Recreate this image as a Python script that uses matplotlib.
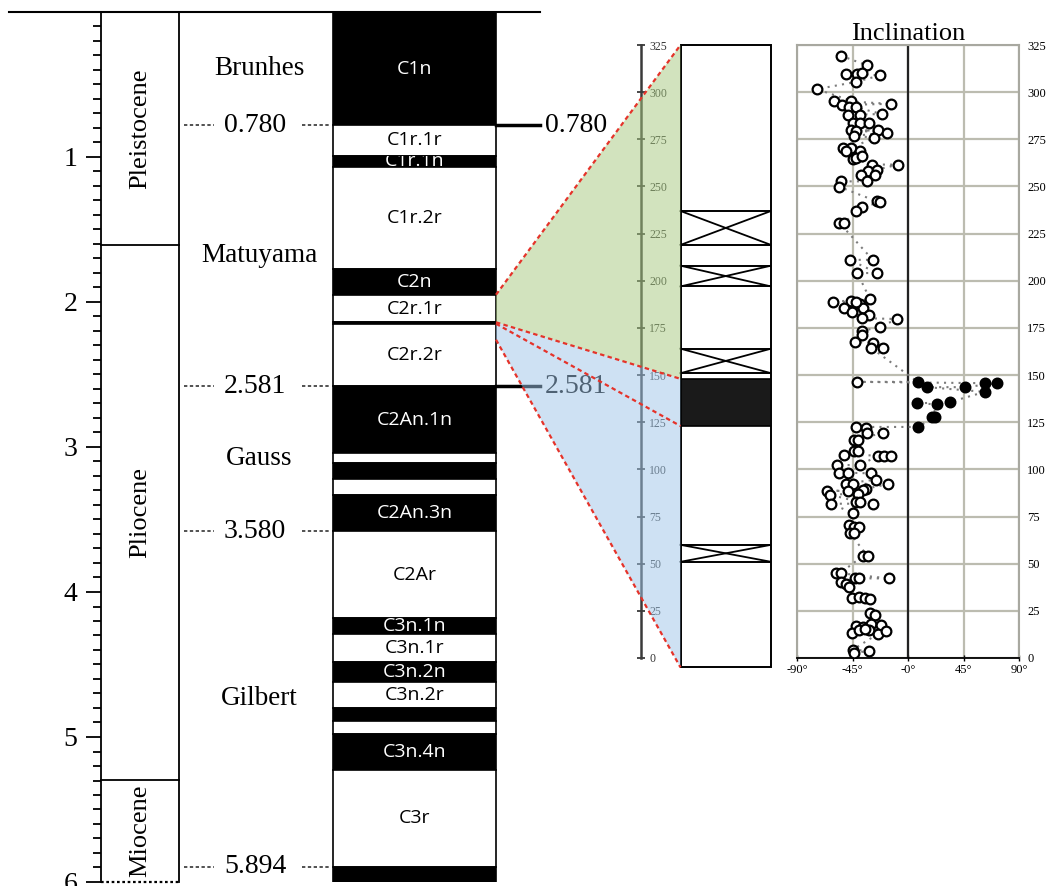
import numpy as np
import matplotlib
matplotlib.use('Agg')
import matplotlib.pyplot as plt
from matplotlib.patches import Polygon
from matplotlib.lines import Line2D

plt.rcParams['font.family'] = ['Liberation Serif', 'DejaVu Serif']

# ---- geomagnetic polarity time scale (Ma) ----
band_names = ['C1n', 'C1r.1r', 'C1r.1n', 'C1r.2r', 'C2n', 'C2r.1r', '', 'C2r.2r',
              'C2An.1n', '', '', '', 'C2An.3n', 'C2Ar', 'C3n.1n', 'C3n.1r',
              'C3n.2n', 'C3n.2r', '', '', 'C3n.4n', 'C3r', '']
band_top = [0.000, 0.780, 0.990, 1.070, 1.770, 1.950, 2.140, 2.150,
            2.581, 3.040, 3.110, 3.220, 3.330, 3.580, 4.180, 4.290,
            4.480, 4.620, 4.800, 4.890, 4.980, 5.230, 5.894]
band_base = [0.780, 0.990, 1.070, 1.770, 1.950, 2.140, 2.150, 2.581,
             3.040, 3.110, 3.220, 3.330, 3.580, 4.180, 4.290, 4.480,
             4.620, 4.800, 4.890, 4.980, 5.230, 5.894, 6.000]
band_normal = [1, 0, 1, 0, 1, 0, 1, 0,
               1, 0, 1, 0, 1, 0, 1, 0,
               1, 0, 1, 0, 1, 0, 1]

epoch_names = ['Pleistocene', 'Pliocene', 'Miocene']
epoch_bounds = [0.0, 1.61, 5.30, 6.0]
chron_names = ['Brunhes', 'Matuyama', 'Gauss', 'Gilbert']
chron_bounds = [0.0, 0.780, 2.581, 3.580, 5.894]
boundary_ages = [0.780, 2.581, 3.580, 5.894]
tie_ages = [0.780, 2.581]

# ---- section (m) ----
section_top, section_base = 325, -5
gap_top = [237, 208, 164, 60]
gap_base = [219, 197, 151, 51]
normal_top, normal_base = 148, 123

# correlation lines: age (Ma) -> depth (m)
link_ages = [1.95, 2.14, 2.15, 2.26]
link_depths = [325, 148, 123, -5]

# ---- inclination data ----
rev_depth = [319.3, 314.3, 309.5, 309.5, 310.2, 308.9, 305.4, 301.6,
             295.5, 295.5, 293.2, 292.3, 292.0, 293.8, 288.0, 288.0, 288.4,
             283.9, 283.9, 283.4, 279.8, 279.5, 279.8, 278.6, 276.8, 275.9,
             270.5, 270.5, 268.8, 268.8, 264.8, 265.2, 266.0, 261.6, 261.6,
             258.4, 258.9, 256.3, 256.3, 252.7, 252.7, 249.8,
             242.1, 241.7, 238.9, 236.8, 230.7, 230.7, 211.1, 211.1, 204.1, 204.1,
             189.0, 189.5, 190.2, 187.7, 185.5, 183.7, 185.5, 188.5,
             181.6, 180.2, 179.7, 175.5, 173.3, 171.0, 167.5, 167.2, 164.5, 164.5,
             146.4, 122.5, 122.0, 119.3, 119.3, 115.7, 115.7, 110.0, 109.6,
             107.7, 107.1, 107.3, 107.3, 102.3, 102.3, 98.2, 98.2, 97.9,
             94.6, 92.1, 92.5, 92.5, 88.6, 88.6, 89.8, 88.9, 87.1, 86.6,
             82.7, 82.7, 81.8, 81.8,
             76.8, 70.3, 69.7, 69.7, 66.2, 66.2, 54.0, 54.0, 45.2, 45.2,
             40.4, 39.4, 37.6, 42.2, 42.2, 42.2, 31.7, 32.4, 32.0, 31.1,
             23.6, 22.9, 17.1, 16.2, 18.0, 17.6, 14.8, 12.7, 14.5, 13.1,
             14.8, 15.3, 4.3, 2.5, 3.9]
rev_incl = [-54.2, -33.6, -50.1, -41.0, -36.9, -22.6, -42.4, -74.0,
            -59.7, -46.5, -53.4, -48.2, -42.4, -13.8, -48.7, -39.1, -21.2,
            -44.6, -39.1, -31.7, -46.0, -41.8, -24.0, -17.1, -43.8, -27.2,
            -52.8, -46.0, -50.1, -39.1, -44.6, -42.4, -37.2, -29.5, -8.0,
            -32.2, -25.3, -38.5, -26.7, -33.6, -54.2, -55.6,
            -25.3, -23.1, -36.9, -42.4, -55.6, -51.5, -47.3, -28.6, -41.0, -24.8,
            -61.1, -46.0, -30.8, -39.1, -52.0, -45.4, -36.3, -42.5,
            -31.4, -36.9, -8.8, -23.1, -37.7, -36.9, -43.2, -28.1, -30.0, -20.6,
            -41.3, -42.1, -33.8, -33.0, -19.9, -44.0, -40.7, -44.0, -40.7,
            -51.8, -24.1, -19.1, -13.9, -39.3, -57.3, -55.9, -49.0, -29.6,
            -26.0, -16.6, -50.4, -44.9, -65.7, -49.0, -33.8, -36.6, -40.7, -63.4,
            -42.1, -39.3, -62.3, -28.3,
            -44.5, -47.7, -43.6, -39.5, -47.2, -43.6, -36.8, -32.7, -58.7, -54.6,
            -54.6, -50.5, -47.7, -43.1, -39.5, -15.5, -45.5, -40.1, -34.6, -30.8,
            -30.8, -26.4, -42.3, -36.8, -30.0, -21.8, -31.4, -24.6, -17.7, -45.5,
            -39.5, -34.6, -45.0, -43.6, -31.9]
nor_depth = [146.4, 143.6, 143.6, 145.7, 145.7, 141.1, 135.0, 134.5, 135.7,
             127.7, 127.7, 122.5]
nor_incl = [7.8, 15.5, 46.5, 62.6, 72.3, 62.3, 7.2, 23.5, 34.0,
            19.7, 21.6, 8.0]

W, H = 1046, 886
fig = plt.figure(figsize=(W / 100, H / 100), dpi=100)


def px_axes(x0, y0, x1, y1):
    return fig.add_axes([x0 / W, 1 - y1 / H, (x1 - x0) / W, (y1 - y0) / H])


# ================= time scale =================
ax_t = px_axes(0, 12, 560, 882)
ax_t.set_xlim(0, 560)
ax_t.set_ylim(6, 0)
for s in ['top', 'right', 'bottom']:
    ax_t.spines[s].set_visible(False)
ax_t.spines['left'].set_position(('data', 101))
ax_t.spines['left'].set_linewidth(1.3)
ax_t.set_xticks([])
ax_t.set_yticks([1, 2, 3, 4, 5, 6])
ax_t.set_yticks(np.arange(0, 6.01, 0.1), minor=True)
ax_t.tick_params(axis='y', which='major', direction='out', length=11, width=1.3,
                 labelsize=20, pad=6)
ax_t.tick_params(axis='y', which='minor', direction='out', length=6, width=1.3)
ax_t.patch.set_alpha(0)

ax_t.plot([179, 179], [0, 6], color='black', lw=1.3, clip_on=False)
for b in epoch_bounds[1:-1]:
    ax_t.plot([101, 179], [b, b], color='black', lw=1.3)
ax_t.plot([101, 179], [6, 6], color='black', lw=1.6, ls=(0, (1.2, 1.2)), clip_on=False)
ax_t.plot([9, 540], [0, 0], color='black', lw=1.5, clip_on=False)

for name, a, b in zip(epoch_names, epoch_bounds[:-1], epoch_bounds[1:]):
    ax_t.text(140, (a + b) / 2, name, rotation=90, ha='center', va='center', fontsize=19)
for name, a, b in zip(chron_names, chron_bounds[:-1], chron_bounds[1:]):
    ax_t.text(259, (a + b) / 2, name, ha='center', va='center', fontsize=19.5)
for a in boundary_ages:
    ax_t.text(255, a, f'{a:.3f}', ha='center', va='center', fontsize=20)
    ax_t.plot([184, 214], [a, a], color='#333333', lw=1.2, ls=(0, (2, 1.5)))
    ax_t.plot([302, 331], [a, a], color='#333333', lw=1.2, ls=(0, (2, 1.5)))

for name, top, base, nrm in zip(band_names, band_top, band_base, band_normal):
    bars = ax_t.bar(414.5, base - top, bottom=top, width=163,
                    color='black' if nrm else 'white', edgecolor='black', lw=1.2)
    if name:
        t = ax_t.text(414.5, (top + base) / 2, name, ha='center', va='center',
                      fontsize=14, family=['Open Sans', 'DejaVu Sans'],
                      color='white' if nrm else 'black')
        t.set_clip_on(True)
        t.set_clip_path(bars[0])

for a in tie_ages:
    ax_t.plot([496, 540], [a, a], color='black', lw=2.5)
    ax_t.text(545, a, f'{a:.3f}', ha='left', va='center', fontsize=20)

# ================= section column =================
ax_d = px_axes(641, 45, 771, 658)
ax_d.set_xlim(0, 130)
ax_d.set_ylim(0, 325)
for s in ['top', 'left', 'bottom']:
    ax_d.spines[s].set_visible(False)
ax_d.spines['right'].set_position(('data', 0))
ax_d.spines['right'].set_linewidth(1.8)
ax_d.spines['right'].set_color('#3a3a3a')
ax_d.yaxis.tick_right()
ax_d.set_yticks(range(0, 326, 25))
ax_d.tick_params(axis='y', direction='inout', length=6, width=1.3, labelsize=8.5,
                 pad=3, color='#3a3a3a', labelcolor='#333333')
ax_d.set_xticks([])
ax_d.patch.set_alpha(0)

col_x0, col_x1 = 39.5, 130
ax_d.bar((col_x0 + col_x1) / 2, section_top - section_base, bottom=section_base,
         width=col_x1 - col_x0, color='white', edgecolor='black', lw=1.4, clip_on=False)
for gt, gb in zip(gap_top, gap_base):
    ax_d.bar((col_x0 + col_x1) / 2, gt - gb, bottom=gb, width=col_x1 - col_x0,
             color='white', edgecolor='black', lw=1.4)
    ax_d.plot([col_x0, col_x1], [gb, gt], color='black', lw=1.3)
    ax_d.plot([col_x0, col_x1], [gt, gb], color='black', lw=1.3)
ax_d.bar((col_x0 + col_x1) / 2, normal_top - normal_base, bottom=normal_base,
         width=col_x1 - col_x0, color='#1a1a1a', edgecolor='black', lw=1.2)

# ================= inclination =================
ax_i = px_axes(797, 45, 1019, 658)
ax_i.set_xlim(-90, 90)
ax_i.set_ylim(0, 325)
ax_i.set_yticks(range(0, 326, 25))
ax_i.yaxis.tick_right()
ax_i.set_xticks([-90, -45, 0, 45, 90])
ax_i.set_xticklabels(['-90°', '-45°', '-0°', '45°', '90°'])
ax_i.tick_params(axis='y', length=0, labelsize=9, pad=6)
ax_i.tick_params(axis='x', direction='inout', length=5, width=1, labelsize=9, pad=2)
ax_i.grid(True, color='#bcbcb0', lw=1.6)
ax_i.set_axisbelow(True)
for s in ['top', 'left', 'right']:
    ax_i.spines[s].set_color('#a8a8a0')
    ax_i.spines[s].set_linewidth(1.5)
ax_i.spines['bottom'].set_linewidth(1.3)
ax_i.axvline(0, color='#222222', lw=1.6, zorder=1)
ax_i.set_title('Inclination', fontsize=19, pad=3)

all_depth = np.array(rev_depth + nor_depth)
all_incl = np.array(rev_incl + nor_incl)
order = np.argsort(all_depth)
ax_i.plot(all_incl[order], all_depth[order], color='#7c7c7c', lw=1.5,
          ls=(0, (1, 2.5)), zorder=2)
ax_i.plot(rev_incl, rev_depth, 'o', mfc='white', mec='black', ms=7, mew=1.6, zorder=3)
ax_i.plot(nor_incl, nor_depth, 'o', mfc='black', mec='black', ms=7, mew=1.6, zorder=3)


# ================= correlation wedges =================
def to_fig(ax, x, y):
    return fig.transFigure.inverted().transform(ax.transData.transform((x, y)))


left_pts = [to_fig(ax_t, 496, a) for a in link_ages]
right_pts = [to_fig(ax_d, col_x0, d) for d in link_depths]

green = Polygon([left_pts[0], right_pts[0], right_pts[1], left_pts[1]], closed=True,
                transform=fig.transFigure, fc='#a6c97f', alpha=0.5, ec='none', zorder=2)
blue = Polygon([left_pts[1], right_pts[1], right_pts[3], left_pts[3]], closed=True,
               transform=fig.transFigure, fc='#9fc5e8', alpha=0.5, ec='none', zorder=2)
fig.add_artist(green)
fig.add_artist(blue)
for lp, rp in zip(left_pts, right_pts):
    fig.add_artist(Line2D([lp[0], rp[0]], [lp[1], rp[1]], transform=fig.transFigure,
                          color='#e5332a', lw=1.6, ls=(0, (2, 1.5)), zorder=3))

fig.savefig('out.png', dpi=100)
